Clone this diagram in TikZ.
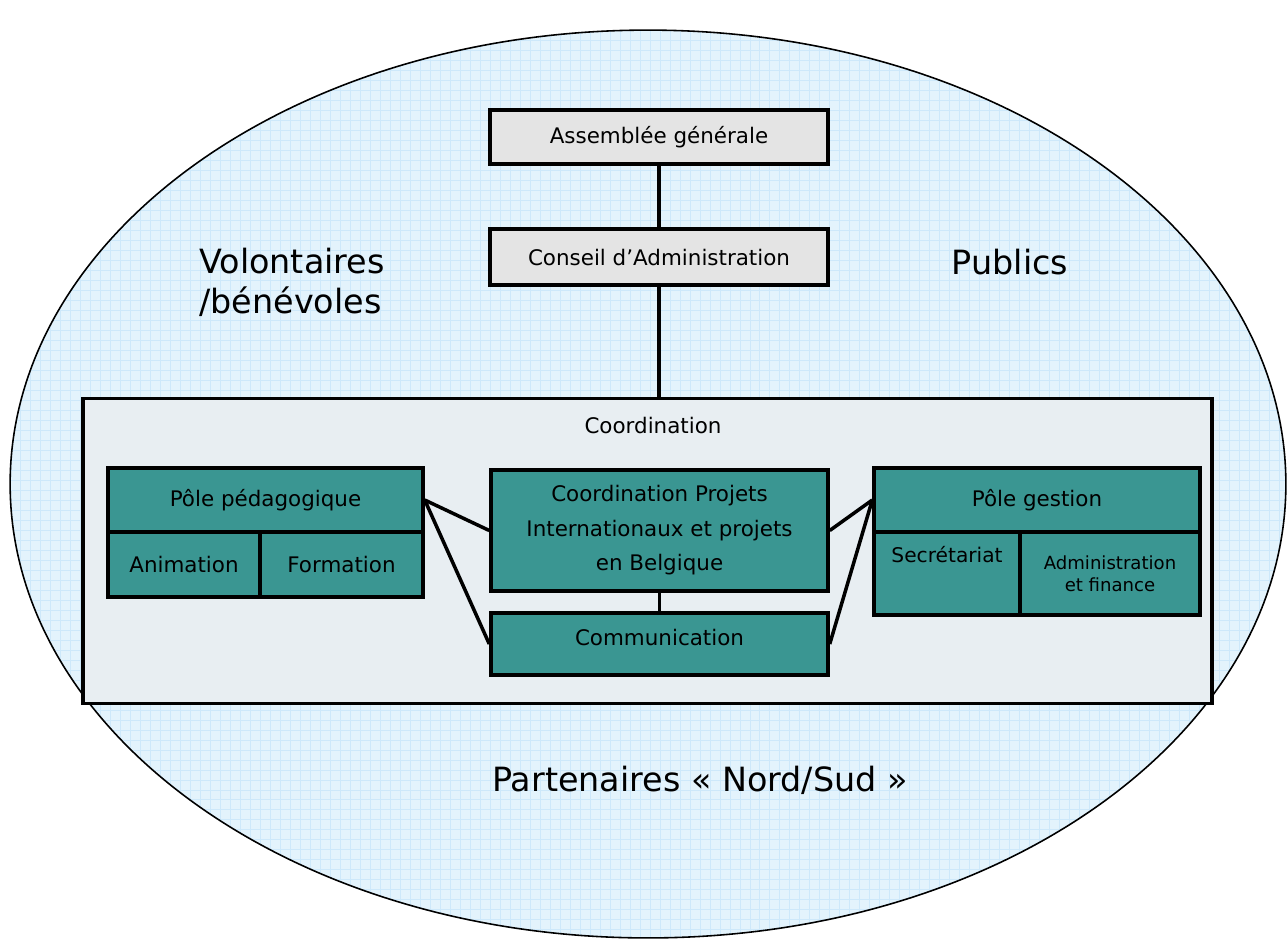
\documentclass[tikz,border=0pt]{standalone}
\usepackage{fontspec}
\setmainfont{DejaVu Sans}
\usetikzlibrary{positioning}
\usetikzlibrary{calc}

\begin{document}
\begin{tikzpicture}[x=0.02cm, y=-0.02cm,
   		greybox/.style={draw=black, line width=2pt, fill=BoxGrey, inner sep=0pt, font=\fontsize{12.2}{15}\selectfont},
   		tealbox/.style={draw=black, line width=2pt, fill=BoxTeal, inner sep=0pt, align=center, font=\fontsize{12.2}{19.6}\selectfont},
   		link/.style={black, line width=2pt},
   		bigtext/.style={black, align=left, font=\fontsize{19}{22.7}\selectfont}]
   		\definecolor{EllFill}{RGB}{227,243,252}
   		\definecolor{EllGrid}{RGB}{205,232,250}
   		\definecolor{CoordFill}{RGB}{232,238,242}
   		\definecolor{BoxGrey}{RGB}{228,228,228}
   		\definecolor{BoxTeal}{RGB}{58,150,146}
   		\def \EllX {12.76cm}
   		\def \EllY {9.08cm}
   		
   		\useasboundingbox (0,0) rectangle (1287,938);
   		
   		% outer ellipse
   		\fill [EllFill] (648,484) ellipse [x radius=\EllX, y radius=\EllY];
   		\begin{scope}
   		\clip (648,484) ellipse [x radius=\EllX, y radius=\EllY];
   		\draw [EllGrid, line width=0.4pt, step=0.2cm] (0,0) grid (1287,938);
   		\end{scope}
   		\draw [black, line width=0.9pt] (648,484) ellipse [x radius=\EllX, y radius=\EllY];
   		
   		\node[bigtext](volontaires) at (292,282){Volontaires\\/bénévoles};
   		\node[bigtext](publics) at (1010,262){Publics};
   		\node[bigtext](partenaires) at (700,780){Partenaires « Nord/Sud »};
   		
   		% top of the chart
   		\node[greybox, minimum width=6.76cm, minimum height=1.08cm](assemblee) at (659,137){Assemblée générale};
   		\node[greybox, minimum width=6.76cm, minimum height=1.12cm](conseil) at (659,257){Conseil d’Administration};
   		
   		\node[draw=black, line width=2pt, fill=CoordFill, minimum width=22.58cm, minimum height=6.1cm](coordination) at (647.5,551){};
   		\node[black, font=\fontsize{12.2}{15}\selectfont](coordlabel) at (653,425){Coordination};
   		
   		% pole pedagogique
   		\node[tealbox, minimum width=6.3cm, minimum height=1.28cm](pedago) at (265.5,500){Pôle pédagogique};
   		\node[tealbox, minimum width=3.04cm, minimum height=1.3cm](animation) at (184,564.5){Animation};
   		\node[tealbox, minimum width=3.26cm, minimum height=1.3cm](formation) at (341.5,564.5){Formation};
   		
   		% centre
   		\node[tealbox, minimum width=6.74cm, minimum height=2.42cm](projets) at (659.5,530.5){Coordination Projets\\Internationaux et projets\\en Belgique};
   		\node[tealbox, minimum width=6.74cm, minimum height=1.24cm, text depth=0.28cm](communication) at (659.5,644){Communication};
   		
   		% pole gestion
   		\node[tealbox, minimum width=6.52cm, minimum height=1.28cm](gestion) at (1037,500){Pôle gestion};
   		\node[tealbox, minimum width=2.92cm, minimum height=1.66cm, font=\fontsize{11.5}{22}\selectfont](secretariat) at (947,573.5){Secrétariat\\~};
   		\node[tealbox, minimum width=3.6cm, minimum height=1.66cm, font=\fontsize{10.3}{12.5}\selectfont](adminfin) at (1110,573.5){Administration\\et finance};
   		
   		\draw [link] (assemblee) -- (conseil);
   		\draw [link] (conseil.south) -- (conseil.south |- coordination.north);
   		\draw [link] (projets) -- (communication);
   		\draw [link] (pedago.east) -- (projets.west);
   		\draw [link] (pedago.east) -- (communication.west);
   		\draw [link] (gestion.west) -- (projets.east);
   		\draw [link] (gestion.west) -- (communication.east);
   		
\end{tikzpicture}
\end{document}
